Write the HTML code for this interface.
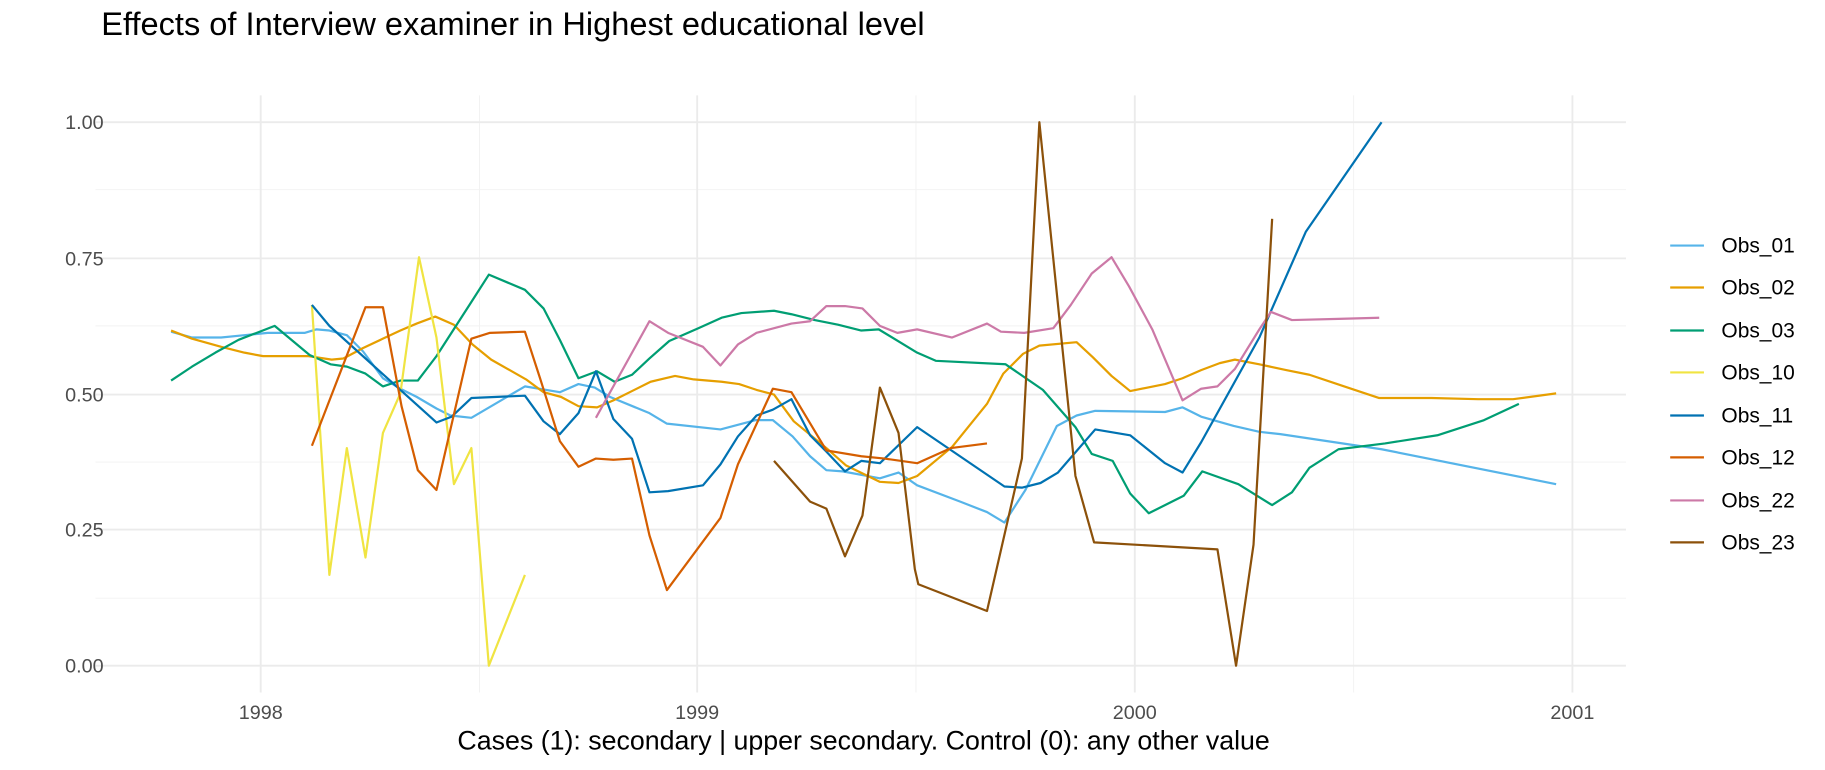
<!DOCTYPE html>
<html><head><meta charset="utf-8"><style>html,body{margin:0;padding:0;background:#fff}svg{display:block}</style></head>
<body>
<svg width="1825" height="770" viewBox="0 0 1568 661.6" preserveAspectRatio="none" xmlns="http://www.w3.org/2000/svg" font-family="Liberation Sans, Arial, sans-serif">
<rect width="1568" height="662" fill="#fff"/>
<g stroke="#f2f2f2" stroke-width="0.8">
<line x1="82" x2="1397" y1="163" y2="163"/><line x1="82" x2="1397" y1="280" y2="280"/><line x1="82" x2="1397" y1="397" y2="397"/><line x1="82" x2="1397" y1="514" y2="514"/>
<line x1="412" x2="412" y1="82" y2="595"/><line x1="787" x2="787" y1="82" y2="595"/><line x1="1163" x2="1163" y1="82" y2="595"/>
</g>
<g stroke="#ebebeb" stroke-width="1.6">
<line x1="82" x2="1397" y1="105" y2="105"/><line x1="82" x2="1397" y1="222" y2="222"/><line x1="82" x2="1397" y1="339" y2="339"/><line x1="82" x2="1397" y1="455" y2="455"/><line x1="82" x2="1397" y1="572" y2="572"/>
<line x1="224" x2="224" y1="82" y2="595"/><line x1="599" x2="599" y1="82" y2="595"/><line x1="975" x2="975" y1="82" y2="595"/><line x1="1351" x2="1351" y1="82" y2="595"/>
</g>
<g fill="none" stroke-width="1.9" stroke-linejoin="round">
<polyline stroke="#56B4E9" points="147,285 165,290 190,290 210,288 230,286 262,286 272,283 283,284 298,288 312,302 329,325 344,334 358,341 375,351 387,357 405,359 451,332 481,337 497,330 511,333 524,341 558,355 573,364 619,369 649,361 664,361 681,375 696,392 710,404 724,405 756,411 772,406 788,417 825,431 848,440 863,449 881,421 908,366 925,357 941,353 1001,354 1016,350 1032,358 1060,366 1082,371 1100,373 1187,386 1337,416"/>
<polyline stroke="#E69F00" points="147,284 165,291 190,298 210,303 226,306 265,306 285,309 295,308 312,299 329,291 344,284 358,278 374,272 390,279 406,296 422,309 452,326 467,337 482,341 497,349 513,350 527,344 543,336 559,328 580,323 596,326 620,328 635,330 650,335 665,339 682,362 710,385 727,400 756,414 772,415 788,409 818,384 848,347 862,321 879,304 893,297 925,294 939,307 955,323 971,336 1001,330 1016,325 1032,318 1048,312 1061,309 1082,313 1105,318 1125,322 1155,332 1185,342 1230,342 1270,343 1300,343 1337,338"/>
<polyline stroke="#009E73" points="147,327 165,315 185,303 205,292 236,280 266,305 284,313 298,315 314,321 329,332 344,327 359,327 375,306 404,261 420,236 451,249 467,265 481,292 497,325 513,319 528,328 543,322 558,308 575,293 600,282 620,273 637,269 665,267 680,270 700,275 720,279 740,284 755,283 788,303 804,310 864,313 896,335 924,367 938,390 956,396 971,424 987,441 1017,426 1033,405 1064,416 1093,434 1110,423 1125,402 1150,386 1190,381 1235,374 1275,361 1305,347"/>
<polyline stroke="#F0E442" points="268,262 283,494 298,385 314,479 329,372 344,338 360,221 375,290 390,416 405,385 420,572 451,494"/>
<polyline stroke="#0072B2" points="268,262 283,280 375,363 388,358 405,342 451,340 467,362 481,373 497,355 512,319 527,360 543,377 558,423 574,422 604,417 619,399 634,375 650,357 664,352 680,343 696,374 710,388 726,405 740,396 756,398 788,367 863,418 878,419 894,415 909,406 941,369 971,374 1001,398 1016,406 1032,380 1082,290 1122,199 1187,105"/>
<polyline stroke="#D55E00" points="268,383 314,264 329,264 345,349 359,404 375,421 405,291 421,286 451,285 464,325 481,379 497,401 512,394 527,395 543,394 558,460 573,507 619,445 634,399 664,334 680,337 710,387 740,392 760,394 788,398 817,385 848,381"/>
<polyline stroke="#CC79A7" points="512,359 558,276 574,286 604,298 619,314 634,296 650,286 680,278 696,276 710,263 726,263 741,265 756,280 771,286 788,283 818,290 848,278 860,285 880,286 905,282 920,262 938,235 955,221 970,246 990,283 1016,344 1032,334 1046,332 1061,317 1082,283 1092,268 1110,275 1150,274 1185,273"/>
<polyline stroke="#8C510A" points="665,396 696,431 710,437 726,478 741,443 756,333 772,372 786,489 789,502 848,525 878,394 893,105 924,409 940,466 1046,472 1062,572 1077,468 1093,188"/>
</g>
<g fill="#4d4d4d" font-size="17">
<g text-anchor="end"><text x="89" y="111">1.00</text><text x="89" y="228">0.75</text><text x="89" y="345">0.50</text><text x="89" y="461">0.25</text><text x="89" y="578">0.00</text></g>
<g text-anchor="middle"><text x="224" y="618">1998</text><text x="599" y="618">1999</text><text x="975" y="618">2000</text><text x="1351" y="618">2001</text></g>
</g>
<text x="742" y="644" text-anchor="middle" font-size="23" fill="#000">Cases (1): secondary | upper secondary. Control (0): any other value</text>
<text x="87" y="30" font-size="28" fill="#000">Effects of Interview examiner in Highest educational level</text>
<g stroke-width="1.9">
<line x1="1435" x2="1464" y1="211" y2="211" stroke="#56B4E9"/><line x1="1435" x2="1464" y1="247" y2="247" stroke="#E69F00"/><line x1="1435" x2="1464" y1="284" y2="284" stroke="#009E73"/><line x1="1435" x2="1464" y1="320" y2="320" stroke="#F0E442"/><line x1="1435" x2="1464" y1="357" y2="357" stroke="#0072B2"/><line x1="1435" x2="1464" y1="393" y2="393" stroke="#D55E00"/><line x1="1435" x2="1464" y1="430" y2="430" stroke="#CC79A7"/><line x1="1435" x2="1464" y1="466" y2="466" stroke="#8C510A"/>
</g>
<g font-size="18" fill="#000">
<text x="1479" y="217">Obs_01</text><text x="1479" y="253">Obs_02</text><text x="1479" y="290">Obs_03</text><text x="1479" y="326">Obs_10</text><text x="1479" y="363">Obs_11</text><text x="1479" y="399">Obs_12</text><text x="1479" y="436">Obs_22</text><text x="1479" y="472">Obs_23</text>
</g>
</svg>
</body></html>
